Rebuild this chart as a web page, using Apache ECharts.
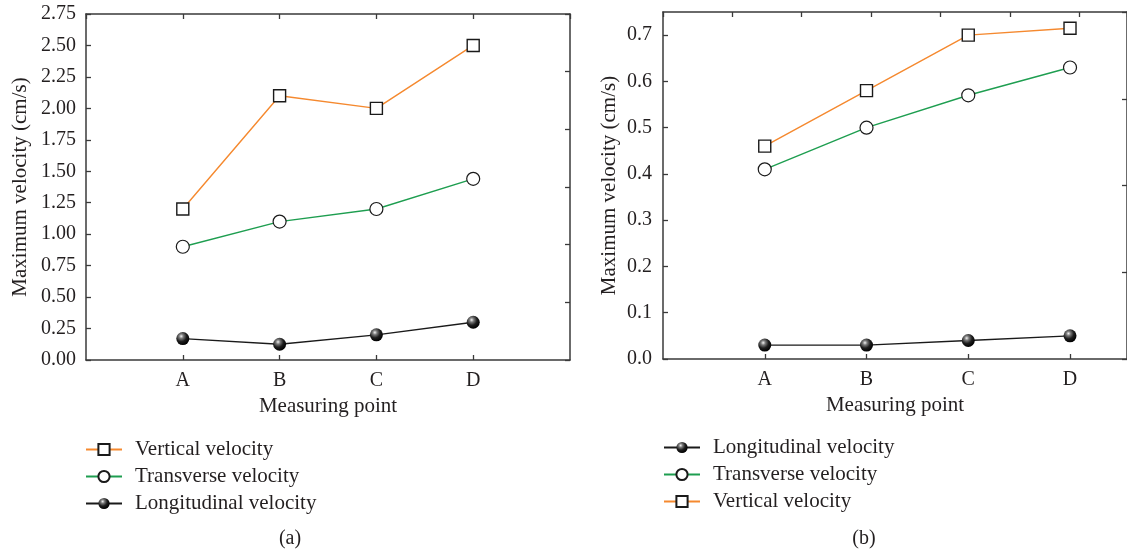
<!DOCTYPE html>
<html>
<head>
<meta charset="utf-8">
<script src="https://cdn.jsdelivr.net/npm/echarts@6/dist/echarts.min.js"></script>
<style>
  html, body { margin: 0; padding: 0; background: #fff; }
  #chart { width: 1127px; height: 555px; }
</style>
</head>
<body>
<div id="chart"></div>
<script>
// Measuring points along the x axis
const categories = ['A', 'B', 'C', 'D'];

// Panel (a): maximum velocity (cm/s)
const verticalA = [1.20, 2.10, 2.00, 2.50];
const transverseA = [0.90, 1.10, 1.20, 1.44];
const longitudinalA = [0.17, 0.125, 0.20, 0.30];

// Panel (b): maximum velocity (cm/s)
const verticalB = [0.46, 0.58, 0.70, 0.715];
const transverseB = [0.41, 0.50, 0.57, 0.63];
const longitudinalB = [0.03, 0.03, 0.04, 0.05];

// Legend order per panel
const legendA = ['Vertical velocity', 'Transverse velocity', 'Longitudinal velocity'];
const legendB = ['Longitudinal velocity', 'Transverse velocity', 'Vertical velocity'];

const FONT = 'Liberation Serif';
const TEXT = '#231f20';
const AXIS = '#3a3a3a';
const ORANGE = '#f5892f';
const GREEN = '#1e9e50';

const chart = echarts.init(document.getElementById('chart'));

// Category i sits at x = i + 1 on a 0-based value axis
const toPoints = vals => vals.map((v, i) => [i + 1, v]);
const catLabel = v => {
  const i = Math.round(v) - 1;
  return (Math.abs(v - Math.round(v)) < 1e-6 && i >= 0 && i < categories.length) ? categories[i] : '';
};

const axisLine = { show: true, onZero: false, lineStyle: { color: AXIS, width: 1.5 } };
const tickIn = { show: true, inside: true, length: 5, lineStyle: { color: AXIS, width: 1.3 } };
const labelStyle = { fontFamily: FONT, fontSize: 20, color: TEXT };

function bottomAxis(gridIndex, max) {
  return {
    type: 'value', gridIndex, position: 'bottom', min: 0, max, interval: 1,
    axisLine, axisTick: tickIn, splitLine: { show: false },
    axisLabel: { ...labelStyle, margin: 11, formatter: catLabel, showMaxLabel: false, showMinLabel: false },
    name: 'Measuring point', nameLocation: 'middle', nameGap: 36,
    nameTextStyle: { fontFamily: FONT, fontSize: 21, color: TEXT }
  };
}
function topAxis(gridIndex, max) {
  return {
    type: 'value', gridIndex, position: 'top', min: 0, max, interval: 1,
    axisLine, axisTick: tickIn, axisLabel: { show: false }, splitLine: { show: false }
  };
}
function leftAxis(gridIndex, max, interval, digits, gap, margin) {
  return {
    type: 'value', gridIndex, position: 'left', min: 0, max, interval,
    axisLine, axisTick: tickIn, splitLine: { show: false },
    axisLabel: { ...labelStyle, margin, showMaxLabel: digits === 2, formatter: v => v.toFixed(digits) },
    name: 'Maximum velocity (cm/s)', nameLocation: 'middle', nameGap: gap, nameRotate: 90,
    nameTextStyle: { fontFamily: FONT, fontSize: 21, color: TEXT }
  };
}
function rightAxis(gridIndex, parts) {
  return {
    type: 'value', gridIndex, position: 'right', min: 0, max: parts, interval: 1,
    axisLine, axisTick: tickIn, axisLabel: { show: false }, splitLine: { show: false }
  };
}

const squareStyle = { color: '#fff', borderColor: '#1a1a1a', borderWidth: 1.4 };
const circleStyle = { color: '#fff', borderColor: '#1a1a1a', borderWidth: 1.2 };
const sphereStyle = {
  color: {
    type: 'radial', x: 0.38, y: 0.32, r: 0.68,
    colorStops: [
      { offset: 0, color: '#f2f2f2' },
      { offset: 0.25, color: '#7a7a7a' },
      { offset: 0.6, color: '#1e1e1e' },
      { offset: 1, color: '#000' }
    ]
  },
  borderWidth: 0
};

function lineSeries(name, vals, xi, yi, symbol, size, itemStyle, color, z) {
  return {
    type: 'line', name, data: toPoints(vals), xAxisIndex: xi, yAxisIndex: yi,
    symbol, symbolSize: size, showSymbol: true, itemStyle,
    lineStyle: { color, width: 1.4 }, z, animation: false,
    emphasis: { disabled: true }
  };
}

const legendText = { fontFamily: FONT, fontSize: 21, color: TEXT, padding: [0, 0, 0, 8] };

const option = {
  backgroundColor: '#fff',
  animation: false,
  grid: [
    { left: 86, top: 14, width: 484, height: 346 },
    { left: 663, top: 12, width: 465, height: 347 }
  ],
  xAxis: [
    bottomAxis(0, 5), topAxis(0, 5),
    bottomAxis(1, 4.56), topAxis(1, 6.69)
  ],
  yAxis: [
    leftAxis(0, 2.75, 0.25, 2, 55, 10), rightAxis(0, 6),
    leftAxis(1, 0.75, 0.1, 1, 43, 11), rightAxis(1, 4)
  ],
  legend: [
    {
      data: legendA, orient: 'vertical', left: 85, top: 439, padding: 0,
      itemWidth: 36, itemHeight: 14, itemGap: 6,
      textStyle: legendText, selectedMode: false
    },
    {
      data: legendB, orient: 'vertical', left: 663, top: 437, padding: 0,
      itemWidth: 36, itemHeight: 14, itemGap: 6,
      textStyle: legendText, selectedMode: false
    }
  ],
  series: [
    lineSeries('Vertical velocity', verticalA, 0, 0, 'rect', 12, squareStyle, ORANGE, 3),
    lineSeries('Transverse velocity', transverseA, 0, 0, 'circle', 13, circleStyle, GREEN, 3),
    lineSeries('Longitudinal velocity', longitudinalA, 0, 0, 'circle', 13, sphereStyle, '#1a1a1a', 3),
    lineSeries('Longitudinal velocity', longitudinalB, 2, 2, 'circle', 13, sphereStyle, '#1a1a1a', 3),
    lineSeries('Transverse velocity', transverseB, 2, 2, 'circle', 13, circleStyle, GREEN, 3),
    lineSeries('Vertical velocity', verticalB, 2, 2, 'rect', 12, squareStyle, ORANGE, 3)
  ],
  graphic: [
    { type: 'text', x: 290, y: 539, style: { text: '(a)', font: '20px "Liberation Serif"', fill: TEXT, textAlign: 'center', textVerticalAlign: 'middle' } },
    { type: 'text', x: 864, y: 539, style: { text: '(b)', font: '20px "Liberation Serif"', fill: TEXT, textAlign: 'center', textVerticalAlign: 'middle' } }
  ]
};

chart.setOption(option);
</script>
</body>
</html>
